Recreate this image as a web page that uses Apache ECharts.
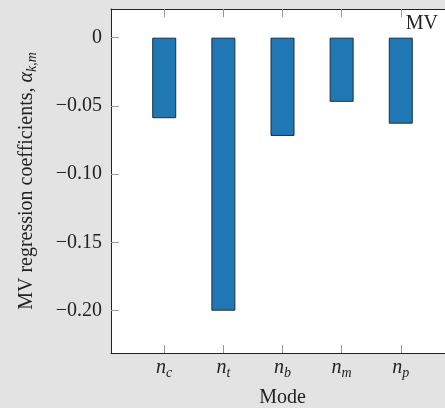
<!DOCTYPE html>
<html>
<head>
<meta charset="utf-8">
<script src="https://cdn.jsdelivr.net/npm/echarts@6/dist/echarts.min.js"></script>
<style>
html,body{margin:0;padding:0;background:#e3e3e3;}
#c{width:445px;height:408px;}
</style>
</head>
<body>
<div id="c"></div>
<script>
const categories = ['c', 't', 'b', 'm', 'p'];
const positions = [1, 2, 3, 4, 5];
const values = [-0.059, -0.200, -0.072, -0.047, -0.063];
const yTicks = [0, -0.05, -0.10, -0.15, -0.20];
const yTickLabels = ['0', '\u22120.05', '\u22120.10', '\u22120.15', '\u22120.20'];

const serif = 'Liberation Serif';
const chart = echarts.init(document.getElementById('c'), null, {renderer: 'canvas'});

const data = positions.map((p, i) => [p, values[i]]);

const option = {
  backgroundColor: '#e3e3e3',
  animation: false,
  grid: {left: 111, top: 9, width: 343, height: 344, show: true, backgroundColor: '#ffffff', borderWidth: 0,
         containLabel: false, outerBoundsMode: 'none'},
  xAxis: [{
    type: 'value', min: 0.1, max: 5.9, position: 'bottom',
    axisLine: {show: true, onZero: false, lineStyle: {color: '#222', width: 1}},
    axisTick: {show: true, inside: true, length: 8, lineStyle: {color: '#999'}, customValues: positions},
    axisLabel: {
      show: true, margin: 3, customValues: positions,
      formatter: function (v) {
        const i = positions.indexOf(Math.round(v));
        return i >= 0 ? '{n|n}{s|' + categories[i] + '}' : '';
      },
      rich: {
        n: {fontFamily: serif, fontStyle: 'italic', fontSize: 20, color: '#222'},
        s: {fontFamily: serif, fontStyle: 'italic', fontSize: 14, color: '#222', padding: [10, 0, 0, 0]}
      }
    },
    splitLine: {show: false},
    name: 'Mode', nameLocation: 'middle', nameGap: 35,
    nameTextStyle: {fontFamily: serif, fontSize: 20, color: '#222'}
  }, {
    type: 'value', min: 0.1, max: 5.9, position: 'top',
    axisLine: {show: true, onZero: false, lineStyle: {color: '#222', width: 1}},
    axisTick: {show: true, inside: true, length: 8, lineStyle: {color: '#999'}, customValues: positions},
    axisLabel: {show: false},
    splitLine: {show: false}
  }],
  yAxis: [{
    type: 'value', min: -0.231, max: 0.021,
    axisLine: {show: true, onZero: false, lineStyle: {color: '#222', width: 1}},
    axisTick: {show: true, inside: true, length: 8, lineStyle: {color: '#999'}, customValues: yTicks},
    axisLabel: {
      show: true, margin: 9, customValues: yTicks,
      fontFamily: serif, fontSize: 20, color: '#222',
      formatter: function (v) {
        let best = 0;
        for (let i = 0; i < yTicks.length; i++) if (Math.abs(yTicks[i] - v) < Math.abs(yTicks[best] - v)) best = i;
        return yTickLabels[best];
      }
    },
    splitLine: {show: false},
    name: 'MV regression coefficients, {a|\u03b1}{s|k,m}',
    nameLocation: 'middle', nameGap: 72, nameRotate: 90,
    nameTextStyle: {
      fontFamily: serif, fontSize: 20, color: '#222',
      rich: {
        a: {fontFamily: serif, fontStyle: 'italic', fontSize: 20, color: '#222'},
        s: {fontFamily: serif, fontStyle: 'italic', fontSize: 14, color: '#222', padding: [10, 0, 0, 0]}
      }
    }
  }],
  series: [{
    type: 'bar', data: data, barWidth: 24,
    itemStyle: {color: '#1f77b4', borderColor: '#1b2f45', borderWidth: 1}
  }],
  graphic: [{
    type: 'text', right: 7, top: 14,
    style: {text: 'MV', font: '20px "Liberation Serif"', fill: '#222'}
  }]
};
chart.setOption(option);
</script>
</body>
</html>
